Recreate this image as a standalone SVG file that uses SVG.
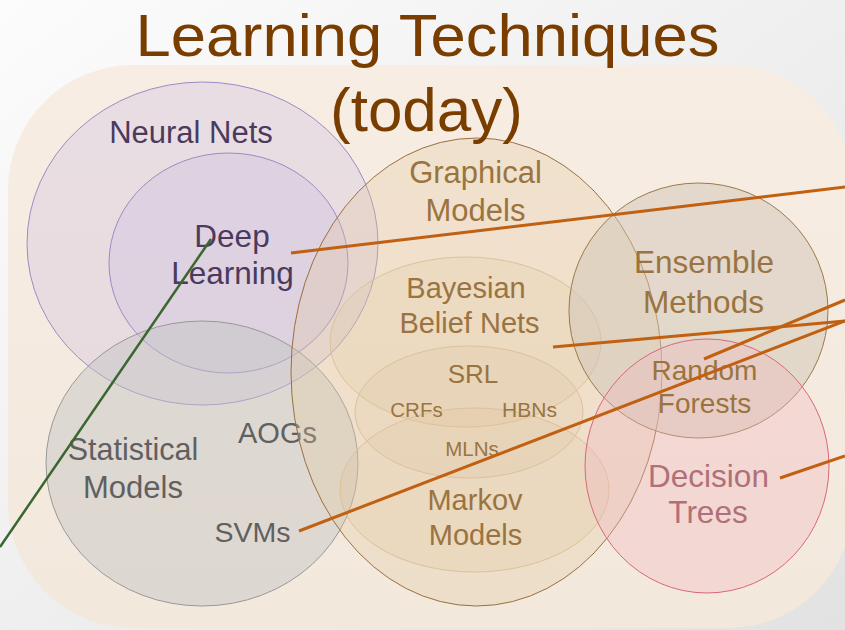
<svg xmlns="http://www.w3.org/2000/svg" width="845" height="630" viewBox="0 0 845 630">
<defs>
<linearGradient id="bg" x1="0" y1="0" x2="1" y2="1">
<stop offset="0" stop-color="#fcfcfc"/>
<stop offset="1" stop-color="#e2e2e2"/>
</linearGradient>
<linearGradient id="peach" x1="0" y1="0" x2="0" y2="1">
<stop offset="0" stop-color="#f8ede3"/>
<stop offset="1" stop-color="#f3e8dc"/>
</linearGradient>
<style>
text{font-family:"Liberation Sans",Arial,sans-serif;text-anchor:middle}
.nn{fill:#c8b8e0;fill-opacity:0.3;stroke:#9a8cc4;stroke-width:1}
.st{fill:#c4c4c4;fill-opacity:0.45;stroke:#999999;stroke-width:1}
.gm{fill:#e0c8a0;fill-opacity:0.3;stroke:#9a7040;stroke-width:1}
.sub{fill:#ddc49c;fill-opacity:0.22;stroke:#dcc29a;stroke-width:1}
.en{fill:#cfc6b5;fill-opacity:0.5;stroke:#9a7a4a;stroke-width:1}
.dt{fill:#f0b8c0;fill-opacity:0.35;stroke:#d8687a;stroke-width:1}
.tn{fill:#4b3a5e}
.tg{fill:#606060}
.tb{fill:#9a7440}
.tp{fill:#b07078}
.or{stroke:#c06010;stroke-width:3;fill:none}
.gr{stroke:#3a6630;stroke-width:2.5;fill:none}
</style>
</defs>
<rect x="0" y="0" width="845" height="630" fill="url(#bg)"/>
<rect x="8" y="65" width="845" height="563" rx="125" ry="125" fill="url(#peach)"/>

<g id="neural-nets">
<ellipse class="nn" cx="202.5" cy="243.5" rx="175.5" ry="161.5"/>
<text class="tn" x="191" y="143" font-size="31">Neural Nets</text>
</g>
<g id="deep-learning">
<ellipse class="nn" cx="228.5" cy="263" rx="119.5" ry="110"/>
<text class="tn" x="232" y="247" font-size="31.5">Deep</text>
<text class="tn" x="232.5" y="284" font-size="31.5">Learning</text>
</g>
<g id="statistical-models">
<ellipse class="st" cx="202" cy="463.5" rx="156" ry="142.5"/>
<text class="tg" x="133" y="460" font-size="30.5">Statistical</text>
<text class="tg" x="133" y="498" font-size="31">Models</text>
</g>
<g id="aogs"><text class="tg" x="277.5" y="443" font-size="29">AOGs</text></g>
<g id="svms"><text class="tg" x="252.5" y="542" font-size="28.5">SVMs</text></g>
<g id="graphical-models">
<ellipse class="gm" cx="476.5" cy="372" rx="185.5" ry="234"/>
<text class="tb" x="475.5" y="183" font-size="31">Graphical</text>
<text class="tb" x="475.5" y="221" font-size="31">Models</text>
</g>
<g id="bayesian-belief-nets">
<ellipse class="sub" cx="465.5" cy="342" rx="135.5" ry="85"/>
<text class="tb" x="466" y="298" font-size="29">Bayesian</text>
<text class="tb" x="469.5" y="333" font-size="29">Belief Nets</text>
</g>
<g id="srl">
<ellipse class="sub" cx="469" cy="412" rx="114" ry="66"/>
<text class="tb" x="473" y="383" font-size="26">SRL</text>
</g>
<g id="markov-models">
<ellipse class="sub" cx="474.5" cy="490" rx="134.5" ry="82"/>
<text class="tb" x="475" y="510" font-size="29">Markov</text>
<text class="tb" x="475.5" y="545" font-size="29">Models</text>
</g>
<g id="crfs"><text class="tb" x="416.5" y="417" font-size="20.5">CRFs</text></g>
<g id="hbns"><text class="tb" x="529.5" y="417" font-size="21">HBNs</text></g>
<g id="mlns"><text class="tb" x="472" y="456" font-size="20.5">MLNs</text></g>
<g id="ensemble-methods">
<ellipse class="en" cx="698.5" cy="310.5" rx="129.5" ry="127.5"/>
<text class="tb" x="704" y="273" font-size="31.5">Ensemble</text>
<text class="tb" x="703.5" y="313" font-size="31.5">Methods</text>
</g>
<g id="decision-trees">
<ellipse class="dt" cx="707" cy="466" rx="122" ry="127"/>
<text class="tp" x="708.5" y="487" font-size="31.5">Decision</text>
<text class="tp" x="708" y="523" font-size="31.5">Trees</text>
</g>
<g id="random-forests">
<text class="tb" x="704.5" y="380" font-size="28">Random</text>
<text class="tb" x="704.5" y="413" font-size="28">Forests</text>
</g>

<g id="connectors">
<line class="or" x1="291" y1="253" x2="845" y2="187"/>
<line class="or" x1="553" y1="347" x2="845" y2="321"/>
<line class="or" x1="704" y1="359" x2="845" y2="300"/>
<line class="or" x1="299" y1="531" x2="845" y2="321"/>
<line class="or" x1="780" y1="478" x2="845" y2="456"/>
<line class="gr" x1="211" y1="239" x2="0" y2="547"/>
</g>

<g id="title">
<text x="427.5" y="56" font-size="59" fill="#7a3d00" textLength="584" lengthAdjust="spacingAndGlyphs">Learning Techniques</text>
<text x="426.5" y="131" font-size="62" fill="#7a3d00" textLength="193" lengthAdjust="spacingAndGlyphs">(today)</text>
</g>
</svg>
